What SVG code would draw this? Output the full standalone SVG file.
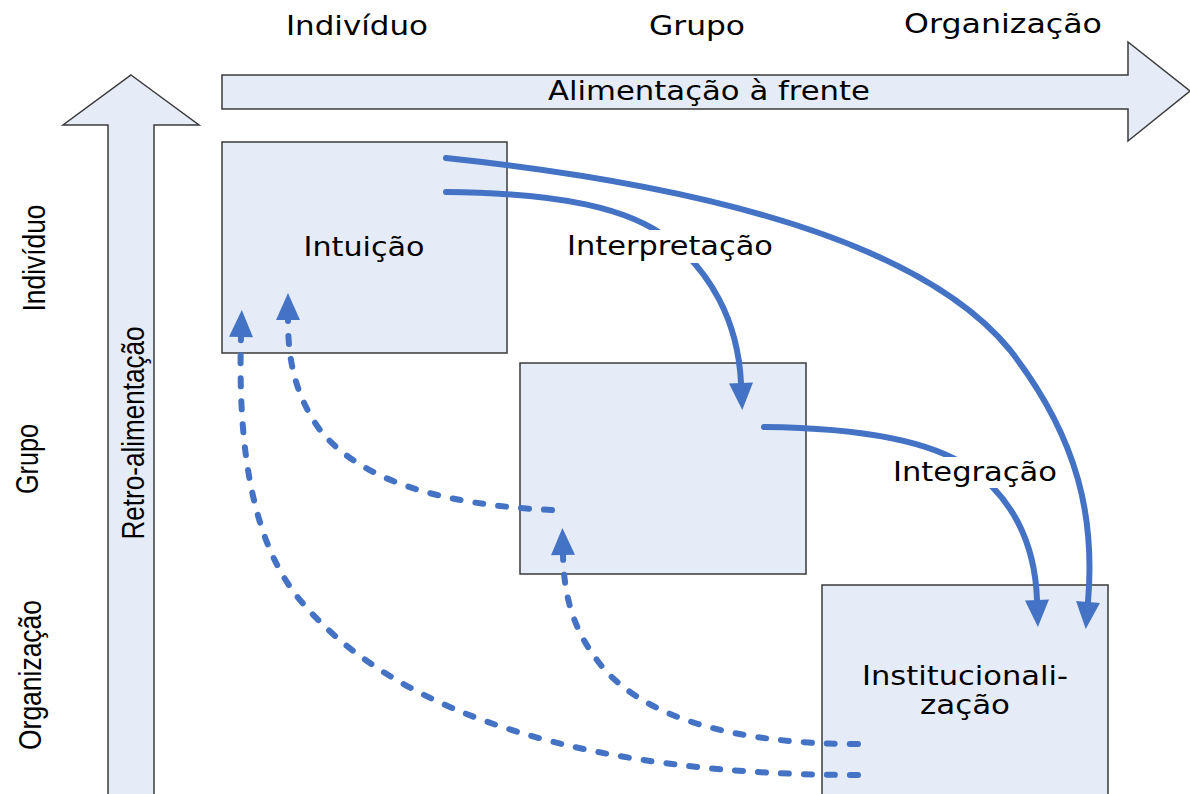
<svg xmlns="http://www.w3.org/2000/svg" width="1190" height="794" viewBox="0 0 1190 794">
<style>
.shape{fill:#E6ECF7;stroke:#3a3a3a;stroke-width:1.5}
.t{font-family:"DejaVu Sans",Verdana,sans-serif;font-size:26px;fill:#000;text-anchor:middle}
.v{font-family:"Liberation Sans",Arial,sans-serif;font-size:31px;fill:#000;text-anchor:middle}
.c{fill:none;stroke:#4472C4;stroke-width:6;stroke-linecap:round}
.d{stroke-dasharray:8 15}
.bg{fill:#fff}
</style>
<defs>
<marker id="ah" markerUnits="userSpaceOnUse" markerWidth="28" markerHeight="26" refX="0" refY="12" orient="auto" overflow="visible">
<path d="M0,0 L27,12 L0,24 z" fill="#4472C4"/>
</marker>
</defs>
<rect width="1190" height="794" fill="#fff"/>
<g id="feedforward">
<polygon class="shape" points="222,75 1128,75 1128,42 1190,91 1128,141 1128,109 222,109"/>
<text class="t" x="709" y="100" textLength="322" lengthAdjust="spacingAndGlyphs">Alimentação à frente</text>
</g>
<g id="feedback">
<polygon class="shape" points="131,75 199,125 154,125 154,800 108,800 108,125 63,125"/>
<text class="v" transform="translate(144,433) rotate(-90)" textLength="213" lengthAdjust="spacingAndGlyphs">Retro-alimentação</text>
</g>
<g id="col-labels">
<text class="t" x="357" y="35" textLength="142" lengthAdjust="spacingAndGlyphs">Indivíduo</text>
<text class="t" x="697" y="35" textLength="96" lengthAdjust="spacingAndGlyphs">Grupo</text>
<text class="t" x="1003" y="33" textLength="198" lengthAdjust="spacingAndGlyphs">Organização</text>
</g>
<g id="row-labels">
<text class="v" transform="translate(45,258) rotate(-90)" textLength="107" lengthAdjust="spacingAndGlyphs">Indivíduo</text>
<text class="v" transform="translate(38,459) rotate(-90)" textLength="70" lengthAdjust="spacingAndGlyphs">Grupo</text>
<text class="v" transform="translate(41,675) rotate(-90)" textLength="150" lengthAdjust="spacingAndGlyphs">Organização</text>
</g>
<g id="intuicao">
<rect class="shape" x="222" y="142" width="285" height="211"/>
<text class="t" x="364" y="256" textLength="121" lengthAdjust="spacingAndGlyphs">Intuição</text>
</g>
<g id="grupo-box">
<rect class="shape" x="520" y="363" width="286" height="211"/>
</g>
<g id="institucionalizacao">
<rect class="shape" x="822" y="585" width="286" height="215"/>
<text class="t" x="965" y="685" textLength="206" lengthAdjust="spacingAndGlyphs">Institucionali-</text>
<text class="t" x="965" y="714" textLength="90" lengthAdjust="spacingAndGlyphs">zação</text>
</g>
<g id="connectors">
<path class="c" marker-end="url(#ah)" d="M446,158 C700,185 920,240 1010,350 C1080,440 1095,520 1088,602"/>
<path class="c" marker-end="url(#ah)" d="M446,192 C560,193 630,208 670,240 C710,272 738,320 741,383"/>
<path class="c" marker-end="url(#ah)" d="M764,427 C860,428 930,440 970,468 C1010,496 1035,540 1037,600"/>
<path class="c d" marker-end="url(#ah)" d="M858,775 C600,775 400,720 300,600 C250,540 238,440 241,337"/>
<path class="c d" marker-end="url(#ah)" d="M858,744 C740,744 650,720 605,670 C575,635 564,600 563,555"/>
<path class="c d" marker-end="url(#ah)" d="M552,510 C440,505 360,480 320,430 C295,395 288,360 288,320"/>
</g>
<g id="label-interpretacao">
<rect class="bg" x="565" y="230" width="210" height="33"/>
<text class="t" x="670" y="255" textLength="206" lengthAdjust="spacingAndGlyphs">Interpretação</text>
</g>
<g id="label-integracao">
<rect class="bg" x="890" y="457" width="170" height="31"/>
<text class="t" x="975" y="481" textLength="164" lengthAdjust="spacingAndGlyphs">Integração</text>
</g>
</svg>
